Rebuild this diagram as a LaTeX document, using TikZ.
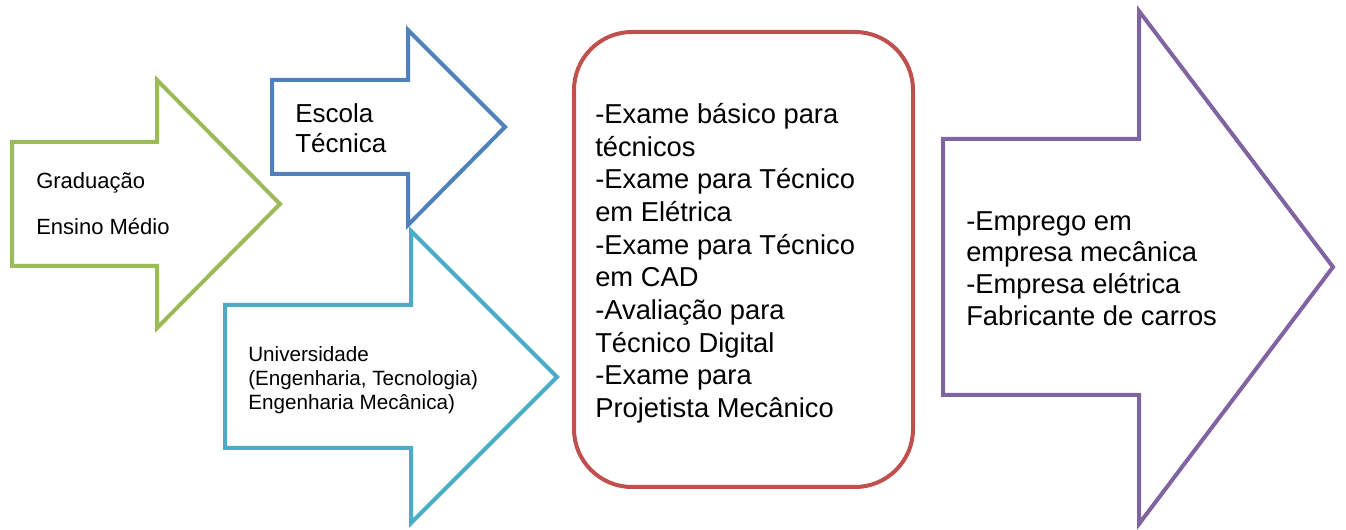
\documentclass[tikz,border=0pt]{standalone}
\usepackage{fontspec}
\setmainfont{Liberation Sans}
\definecolor{grn}{RGB}{155,187,89}
\definecolor{blu}{RGB}{79,129,189}
\definecolor{cyn}{RGB}{75,172,198}
\definecolor{rd}{RGB}{192,80,77}
\definecolor{prp}{RGB}{128,100,162}
\begin{document}
\begin{tikzpicture}[x=0.75pt,y=-0.75pt,
        blockarrow/.style={line width=3pt,line join=miter},
        txt/.style={anchor=north west,inner sep=0pt,align=left}]
        \useasboundingbox (0,0) rectangle (1346,530);

        \draw[blockarrow,grn] (12,142) -- (157,142) -- (157,80) -- (280,204) -- (157,328) -- (157,266) -- (12,266) -- cycle;
        \draw[blockarrow,blu] (272,80) -- (408,80) -- (408,30) -- (505,127) -- (408,225) -- (408,174) -- (272,174) -- cycle;
        \draw[blockarrow,cyn] (225,305) -- (411,305) -- (411,231) -- (557,377) -- (411,523) -- (411,448) -- (225,448) -- cycle;
        \draw[blockarrow,rd,rounded corners=58pt*0.75] (574,32) rectangle (913,487);
        \draw[blockarrow,prp] (943,139) -- (1139,139) -- (1139,11) -- (1333,267) -- (1139,524) -- (1139,395) -- (943,395) -- cycle;

        \node[txt,font={\fontsize{16.5}{35}\selectfont}] (grad) at (36,172) {Graduação\\Ensino Médio};
        \node[txt,font={\fontsize{19.5}{22.5}\selectfont}] (escola) at (295,103) {Escola\\Técnica};
        \node[txt,font={\fontsize{15.5}{18.2}\selectfont}] (univ) at (248,346) {Universidade\\(Engenharia, Tecnologia)\\Engenharia Mecânica)};
        \node[txt,font={\fontsize{20.5}{24.5}\selectfont}] (exames) at (595,103) {-Exame básico para\\técnicos\\-Exame para Técnico\\em Elétrica\\-Exame para Técnico\\em CAD\\-Avaliação para\\Técnico Digital\\-Exame para\\Projetista Mecânico};
        \node[txt,font={\fontsize{20.5}{23.8}\selectfont}] (emprego) at (966,211) {-Emprego em\\empresa mecânica\\-Empresa elétrica\\Fabricante de carros};
    \end{tikzpicture}
\end{document}
